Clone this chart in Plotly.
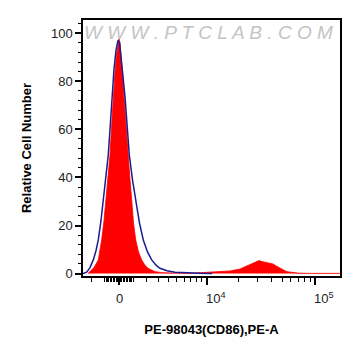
import numpy as np
import plotly.graph_objects as go

# ---------------- data (fluorescence intensity, PE-A) ----------------
# sample (red filled histogram)
sample_x = [-2290, -2120, -1800, -1470, -1220, -1050, -905, -765, -625, -505,
            -395, -275, -170, -70, 0, 70, 170, 275, 345, 485,
            645, 765, 885, 1015, 1175, 1380, 1620, 1880, 2120, 2460,
            2720, 3380, 4800, 6890, 8090, 9670, 11500, 14000, 16600, 20500,
            25400, 28200, 30700, 32700, 34800, 38700, 41200, 44800, 47700, 51900,
            55200, 61300, 69600, 89400, 167500]
sample_y = [0, 0.8, 2.5, 5.7, 14, 22, 30.6, 40, 49.3, 62,
            73.5, 84, 91, 96, 97.8, 96, 90, 81, 73.5, 61,
            49.3, 39, 30.6, 21, 14, 9, 5.7, 3.5, 2.2, 1.3,
            0.8, 0.4, 0.1, 0.05, 0.3, 0.5, 0.6, 0.8, 1.1, 1.9,
            3.6, 4.5, 5.4, 5.0, 4.7, 4.3, 4.0, 3.0, 2.2, 1.4,
            0.8, 0.4, 0.2, 0.1, 0.1]

# isotype / control (navy outline)
control_x = [-2720, -2400, -2120, -1855, -1645, -1470, -1270, -1100, -905, -745,
             -600, -485, -345, -205, -70, 35, 138, 275, 415, 575,
             715, 940, 1175, 1455, 1745, 2080, 2430, 2810, 3180, 3890,
             4800, 6130, 8650, 11300]
control_y = [0, 0.6, 2.5, 5.7, 9.5, 14, 22, 30.6, 40, 49.3,
             62, 73.5, 85, 93, 97, 96, 91, 82, 73.5, 61,
             49.3, 39, 30.6, 21, 14, 9, 5.7, 3.5, 2.2, 1.2,
             0.6, 0.3, 0.1, 0]

major_ticks = [0, 1e4, 1e5]
major_labels = ["0", "10<sup>4</sup>", "10<sup>5</sup>"]
y_ticks = [0, 20, 40, 60, 80, 100]

x_title = "PE-98043(CD86),PE-A"
y_title = "Relative Cell Number"
watermark = "W W W . P T C L A B . C O M"

# ---------------- biexponential-like display scale ----------------
COF = 3290.0


def biex(v):
    return np.arcsinh(np.asarray(v, dtype=float) / COF)


minor_raw = ([-m * 1000 for m in (2, 1)] + [-m * 100 for m in range(9, 0, -1)]
             + [m * 100 for m in range(1, 10)] + [m * 1000 for m in range(1, 10)]
             + [m * 10000 for m in range(2, 10)])

FONT = "Liberation Sans, Arial, sans-serif"

fig = go.Figure()
fig.add_trace(go.Scatter(
    x=biex(sample_x), y=sample_y, mode="lines", fill="tozeroy",
    fillcolor="#ff0000", line=dict(color="#ff0000", width=0.8),
    hoverinfo="skip", showlegend=False))
fig.add_trace(go.Scatter(
    x=biex(control_x), y=control_y, mode="lines",
    line=dict(color="#1c1c8f", width=1.5),
    hoverinfo="skip", showlegend=False))

fig.update_layout(
    width=361, height=356,
    margin=dict(l=83, r=21, t=20, b=80),
    paper_bgcolor="white", plot_bgcolor="white",
    font=dict(family=FONT, size=13, color="#222222"),
    showlegend=False,
)

fig.update_xaxes(
    range=[-0.753, 4.623], showgrid=False, zeroline=False, automargin=False,
    showline=True, linecolor="black", linewidth=1.5, mirror=True,
    tickmode="array", tickvals=list(biex(major_ticks)), showticklabels=False,
    ticks="outside", ticklen=7, tickwidth=1.5, tickcolor="black",
    minor=dict(tickmode="array", tickvals=list(biex(minor_raw)),
               ticks="outside", ticklen=4, tickwidth=1, tickcolor="black"),
    title=dict(text="<b>" + x_title + "</b>", font=dict(size=13, color="black"),
               standoff=41),
)
fig.update_yaxes(
    range=[-1, 105.5], showgrid=False, zeroline=False, automargin=False,
    showline=True, linecolor="black", linewidth=1.5, mirror=True,
    tickmode="array", tickvals=y_ticks,
    ticks="outside", ticklen=6, tickwidth=1.5, tickcolor="black",
    minor=dict(dtick=4, tick0=0, ticks="outside", ticklen=3, tickwidth=1,
               tickcolor="black"),
    tickfont=dict(size=13, color="#222222"),
    title=dict(text="<b>" + y_title + "</b>", font=dict(size=13, color="black"),
               standoff=16),
)

# x tick labels (placed as annotations so the decade labels sit right of the tick)
xs = biex(major_ticks)
fig.add_annotation(x=xs[0], y=0, xref="x", yref="paper", text=major_labels[0],
                   showarrow=False, xanchor="center", yanchor="middle", yshift=-22,
                   font=dict(size=13, color="#222222"))
for xv, lab in zip(xs[1:], major_labels[1:]):
    fig.add_annotation(x=xv, y=0, xref="x", yref="paper", text=lab,
                       showarrow=False, xanchor="left", yanchor="middle",
                       xshift=-3, yshift=-22, font=dict(size=13, color="#222222"))

fig.add_annotation(x=0.49, y=0.953, xref="paper", yref="paper", text="<i>" + watermark + "</i>",
                   showarrow=False, xanchor="center", yanchor="middle",
                   font=dict(size=19, color="#c4c4c4", family=FONT))

fig.write_html("out.html", config={"displayModeBar": False},
               post_script="document.body.style.margin='0';")
